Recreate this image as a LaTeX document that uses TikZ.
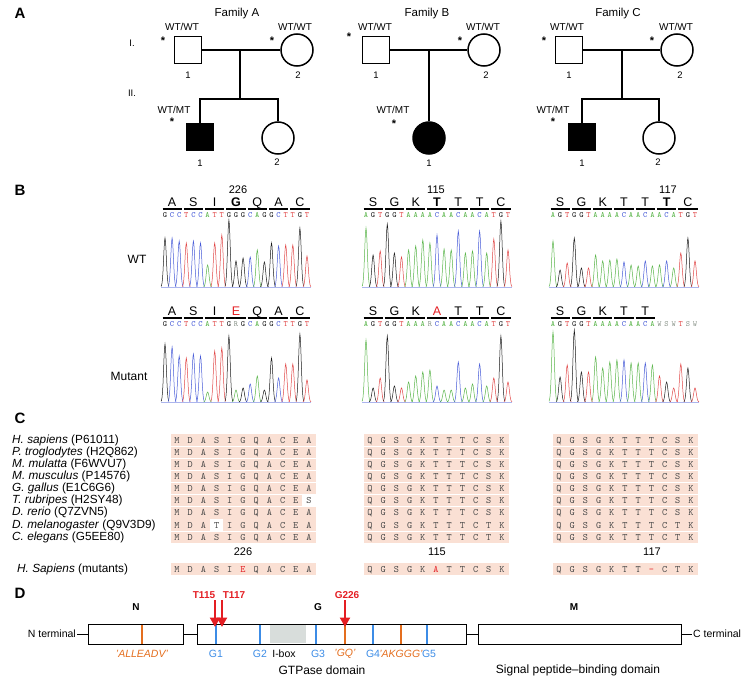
\documentclass[tikz,border=0pt]{standalone}
\usepackage{fontspec}
\setmainfont{Liberation Sans}
\usetikzlibrary{arrows.meta}

\definecolor{ntA}{RGB}{88,180,72}
\definecolor{ntC}{RGB}{70,90,215}
\definecolor{ntG}{RGB}{25,25,25}
\definecolor{ntT}{RGB}{225,70,70}
\definecolor{ntR}{RGB}{140,150,140}
\colorlet{ntW}{ntR}
\colorlet{ntS}{ntR}
\colorlet{pkA}{ntA}
\colorlet{pkC}{ntC}
\colorlet{pkG}{ntG}
\colorlet{pkT}{ntT}
\colorlet{pkR}{ntA}
\colorlet{pkW}{ntT}
\colorlet{pkS}{ntG}
\definecolor{alnpink}{RGB}{250,224,212}
\definecolor{motifblue}{RGB}{60,140,230}
\definecolor{motiforange}{RGB}{228,110,30}
\definecolor{mutred}{RGB}{228,30,35}
\definecolor{iboxgray}{RGB}{216,221,219}

\tikzset{
    panel/.style={font=\fontsize{15}{15}\selectfont\bfseries},
    famname/.style={font=\fontsize{11.5}{12}\selectfont},
    geno/.style={font=\fontsize{10}{10}\selectfont, inner sep=0pt},
    affstar/.style={font=\fontsize{11}{11}\selectfont\bfseries, inner sep=0pt},
    idnum/.style={font=\fontsize{9.5}{10}\selectfont, inner sep=0pt},
    male/.style={draw, line width=1.5pt, minimum size=27pt, inner sep=0pt},
    female/.style={circle, draw, line width=1.5pt, minimum size=32pt, inner sep=0pt},
    affected/.style={fill=black},
    ped/.style={line width=1.5pt},
    amino/.style={font=\fontsize{12.5}{12.5}\selectfont, inner sep=0pt,
        text height=9pt, text depth=0pt},
    nt/.style={font=\ttfamily\fontsize{8}{8}\selectfont, inner sep=0pt,
        text height=4.9pt, text depth=0pt},
    rowlab/.style={font=\fontsize{12}{12}\selectfont},
    posnum/.style={font=\fontsize{11}{11}\selectfont},
    species/.style={font=\fontsize{11.8}{12}\selectfont, anchor=west, inner sep=0pt},
    res/.style={font=\ttfamily\fontsize{9.8}{10}\selectfont, text=black!72, inner sep=0pt,
        text height=6pt, text depth=0pt},
    dom/.style={draw, line width=1pt, minimum height=20pt, inner sep=0pt},
    motif/.style={line width=2.2pt},
    motiflab/.style={font=\fontsize{10.5}{11}\selectfont},
    domname/.style={font=\fontsize{10}{10}\selectfont\bfseries},
    mutlab/.style={font=\fontsize{10}{10}\selectfont\bfseries, text=mutred},
    mutarrow/.style={mutred, line width=2.2pt, -{Triangle[width=10pt,length=9.5pt]}},
}

% sequence readout: name, x0, text y, baseline, base/height list
\newcommand{\readout}[5]{%
    \draw[line width=0.3pt, ntC!45] (#2-4,#4) -- (#2+146,#4);
    \foreach \b/\h [count=\i from 0] in {#5} {
        \node[nt, text=nt\b] (#1-\i) at (#2+\i*7.1,#3) {\b};
        \draw[pk\b, line width=0.5pt] plot[domain=-4:4, samples=17]
            ({#2+\i*7.1+\x},{#4-\h*exp(-(\x*\x)/3.5)});
    }}
% codon letters with bars: name, x0, letter y, list
\newcommand{\codons}[4]{%
    \foreach \amino [count=\k from 0] in {#4} {
        \node[amino] (#1-\k) at (#2+\k*21.3+7.1,#3) {\amino};
        \draw[line width=1.2pt] (#2+\k*21.3-2.5,#3+7) -- (#2+\k*21.3+16.7,#3+7);
    }}
% alignment row: name, x0, y, residues
\newcommand{\alnrow}[4]{%
    \foreach \rs [count=\k from 0] in #4 {
        \node[res] (#1-\k) at (#2+\k*13.2,#3) {\rs};
    }}

\begin{document}
\begin{tikzpicture}[x=1pt, y=-1pt]
\useasboundingbox (0,0) rectangle (755,685);

%%% A: pedigrees
\node[panel] (lA) at (20,13) {A};
\node[idnum] (genI) at (132,43) {I.};
\node[idnum] (genII) at (132,93) {II.};

% Family A
\node[famname] (famA) at (237,14) {Family A};
\node[male] (a1) at (188,50) {};
\node[female] (a2) at (297,50) {};
\node[male, affected] (a3) at (200,137) {};
\node[female] (a4) at (278,138) {};
\coordinate (aM) at (240,50);
\coordinate (aS) at (240,99);
\draw[ped] (a1) -- (a2);
\draw[ped] (aM) -- (aS);
\draw[ped] (a3.north) |- (aS) -| (a4.north);
\node[geno] (a1g) at (182,27) {WT/WT};
\node[geno] (a2g) at (295,27) {WT/WT};
\node[geno] (a3g) at (174,110) {WT/MT};
\node[affstar] (a1s) at (163,41) {*};
\node[affstar] (a2s) at (272,41) {*};
\node[affstar] (a3s) at (172,122) {*};
\node[idnum] (a1n) at (188,75) {1};
\node[idnum] (a2n) at (298,75) {2};
\node[idnum] (a3n) at (200,163) {1};
\node[idnum] (a4n) at (277,162) {2};

% Family B
\node[famname] (famB) at (427,14) {Family B};
\node[male] (b1) at (376,50) {};
\node[female] (b2) at (484,50) {};
\node[female, affected] (b3) at (429,138) {};
\coordinate (bM) at (429,50);
\draw[ped] (b1) -- (b2);
\draw[ped] (bM) -- (b3.north);
\node[geno] (b1g) at (375,27) {WT/WT};
\node[geno] (b2g) at (483,27) {WT/WT};
\node[geno] (b3g) at (393,110) {WT/MT};
\node[affstar] (b1s) at (349,37) {*};
\node[affstar] (b2s) at (460,41) {*};
\node[affstar] (b3s) at (394,124) {*};
\node[idnum] (b1n) at (376,75) {1};
\node[idnum] (b2n) at (486,75) {2};
\node[idnum] (b3n) at (429,163) {1};

% Family C
\node[famname] (famC) at (618,14) {Family C};
\node[male] (c1) at (569,50) {};
\node[female] (c2) at (677,50) {};
\node[male, affected] (c3) at (582,137) {};
\node[female] (c4) at (659,138) {};
\coordinate (cM) at (622,50);
\coordinate (cS) at (622,99);
\draw[ped] (c1) -- (c2);
\draw[ped] (cM) -- (cS);
\draw[ped] (c3.north) |- (cS) -| (c4.north);
\node[geno] (c1g) at (567,27) {WT/WT};
\node[geno] (c2g) at (676,27) {WT/WT};
\node[geno] (c3g) at (553,110) {WT/MT};
\node[affstar] (c1s) at (544,41) {*};
\node[affstar] (c2s) at (652,41) {*};
\node[affstar] (c3s) at (553,122) {*};
\node[idnum] (c1n) at (569,75) {1};
\node[idnum] (c2n) at (680,75) {2};
\node[idnum] (c3n) at (582,163) {1};
\node[idnum] (c4n) at (658,162) {2};

%%% B: chromatograms
\node[panel] (lB) at (20,190) {B};
\node[rowlab] (wtlab) at (137,259) {WT};
\node[rowlab] (mutlab) at (129,376) {Mutant};
\node[posnum] (p226) at (238,190) {226};
\node[posnum] (p115) at (436,190) {115};
\node[posnum] (p117) at (668,190) {117};

\codons{wa}{165}{202}{A,S,I,\textbf{G},Q,A,C}
\readout{wta}{165}{215}{287}{G/49,C/49,C/46,T/44,C/46,C/44,A/22,T/44,T/52,G/67,
    G/26,G/29,C/30,A/37,G/25,G/44,C/41,T/42,T/42,G/59,T/31}
\codons{wb}{366}{202}{S,G,K,\textbf{T},T,T,C}
\readout{wtb}{366}{215}{287}{A/59,G/32,T/36,G/63,G/34,T/30,A/37,A/41,A/47,A/44,
    C/52,A/38,A/37,C/56,A/34,A/36,C/56,A/34,T/48,G/66,T/37}
\codons{wc}{553}{202}{S,G,K,T,T,\textbf{T},C}
\readout{wtc}{553}{215}{287}{A/46,G/17,T/24,G/49,G/19,T/19,A/32,A/26,A/27,A/28,
    C/25,A/22,A/21,C/26,A/21,A/22,C/26,A/19,T/34,G/49,T/26}

\codons{ma}{165}{311}{A,S,I,\textcolor{mutred}{E},Q,A,C}
\readout{mta}{165}{324}{402}{G/58,C/55,C/46,T/44,C/48,C/46,A/10,T/51,T/54,G/66,
    R/12,G/14,C/18,A/26,G/12,G/44,C/24,T/38,T/38,G/68,T/22}
\codons{mb}{366}{311}{S,G,K,\textcolor{mutred}{A},T,T,C}
\readout{mtb}{366}{324}{402}{A/62,G/14,T/24,G/66,G/16,T/14,A/20,A/26,A/30,R/32,
    C/16,A/12,A/12,C/40,A/14,A/18,C/38,A/16,T/24,G/66,T/20}
\codons{mc}{553}{311}{S,G,K,T,T}
\readout{mtc}{553}{324}{402}{A/70,G/25,T/37,G/72,G/30,T/30,A/45,A/34,A/40,A/42,
    C/42,A/39,A/39,C/39,A/37,W/26,S/20,W/14,T/38,S/34,W/14}

%%% C: alignment
\node[panel] (lC) at (20,418) {C};
\foreach \j in {0,...,8} {
    \foreach \bx in {177,370,559} {
        \fill[alnpink] (\bx-6.5,440+\j*12.15-5.6) rectangle (\bx+138.5,440+\j*12.15+5.6);
    }}
\foreach \bx in {177,370,559} {
    \fill[alnpink] (\bx-6.5,563.4) rectangle (\bx+138.5,574.6);
}
\fill[white] (177+10*13.2-6.6,500.75-5.6) rectangle ++(13.2,11.2);
\fill[white] (177+3*13.2-6.6,525.05-5.6) rectangle ++(13.2,11.2);

\foreach \sp/\acc [count=\j from 0] in {H. sapiens/P61011, P. troglodytes/H2Q862,
        M. mulatta/F6WVU7, M. musculus/P14576, G. gallus/E1C6G6,
        T. rubripes/H2SY48, D. rerio/Q7ZVN5, D. melanogaster/Q9V3D9,
        C. elegans/G5EE80} {
    \node[species] (sp\j) at (12,440+\j*12.15) {\textit{\sp} (\acc)};
}
\node[species] (spmut) at (17,569) {\textit{H. Sapiens} (mutants)};

\foreach \row [count=\j from 0] in {{M,D,A,S,I,G,Q,A,C,E,A},{M,D,A,S,I,G,Q,A,C,E,A},
        {M,D,A,S,I,G,Q,A,C,E,A},{M,D,A,S,I,G,Q,A,C,E,A},{M,D,A,S,I,G,Q,A,C,E,A},
        {M,D,A,S,I,G,Q,A,C,E,S},{M,D,A,S,I,G,Q,A,C,E,A},{M,D,A,T,I,G,Q,A,C,E,A},
        {M,D,A,S,I,G,Q,A,C,E,A}} {
    \alnrow{k1r\j}{177}{440+\j*12.15}{\row}
}
\foreach \j in {0,...,6} {
    \alnrow{k2r\j}{370}{440+\j*12.15}{{Q,G,S,G,K,T,T,T,C,S,K}}
    \alnrow{k3r\j}{559}{440+\j*12.15}{{Q,G,S,G,K,T,T,T,C,S,K}}
}
\foreach \j in {7,8} {
    \alnrow{k2r\j}{370}{440+\j*12.15}{{Q,G,S,G,K,T,T,T,C,T,K}}
    \alnrow{k3r\j}{559}{440+\j*12.15}{{Q,G,S,G,K,T,T,T,C,T,K}}
}
\node[posnum] (c226) at (243,552) {226};
\node[posnum] (c115) at (437,552) {115};
\node[posnum] (c117) at (652,552) {117};
\alnrow{k1m}{177}{569}{{M,D,A,S,I,\textcolor{mutred}{E},Q,A,C,E,A}}
\alnrow{k2m}{370}{569}{{Q,G,S,G,K,\textcolor{mutred}{A},T,T,C,S,K}}
\alnrow{k3m}{559}{569}{{Q,G,S,G,K,T,T,\textcolor{mutred}{-},C,T,K}}

%%% D: domains
\node[panel] (lD) at (20,593) {D};
\fill[iboxgray] (270,625) rectangle (306,643);
\node[dom, minimum width=95pt] (domN) at (135.5,634) {};
\node[dom, minimum width=269pt] (domG) at (331.5,634) {};
\node[dom, minimum width=203pt] (domM) at (579.5,634) {};
\node[motiflab, anchor=east, inner sep=1pt] (nterm) at (77,634) {N terminal};
\node[motiflab, anchor=west, inner sep=1pt] (cterm) at (692,634) {C terminal};
\draw[line width=1pt] (nterm) -- (domN);
\draw[line width=1pt] (domN) -- (domG);
\draw[line width=1pt] (domG) -- (domM);
\draw[line width=1pt] (domM) -- (cterm);

\foreach \x/\c in {142/motiforange, 216/motifblue, 260/motifblue, 316/motifblue,
                   345/motiforange, 373/motifblue, 401/motiforange, 427/motifblue} {
    \draw[motif, \c] (\x,624.5) -- (\x,643.5);
}

\node[motiflab, text=motiforange] (mALL) at (142,654) {\textit{'ALLEADV'}};
\node[motiflab, text=motifblue] (mG1) at (216,654) {G1};
\node[motiflab, text=motifblue] (mG2) at (260,654) {G2};
\node[motiflab] (mIbox) at (284,654) {I-box};
\node[motiflab, text=motifblue] (mG3) at (318,654) {G3};
\node[motiflab, text=motiforange] (mGQ) at (345,654) {\textit{'GQ'}};
\node[motiflab, text=motifblue] (mG4) at (373,654) {G4};
\node[motiflab, text=motiforange] (mAKG) at (401,654) {\textit{'AKGGG'}};
\node[motiflab, text=motifblue] (mG5) at (429,654) {G5};

\node[domname] (dN) at (136,607) {N};
\node[domname] (dG) at (318,607) {G};
\node[domname] (dM) at (574,607) {M};
\node[font=\fontsize{12}{12}\selectfont] (gtpase) at (322,670) {GTPase domain};
\node[font=\fontsize{12}{12}\selectfont] (spbd) at (578,670) {Signal peptide--binding domain};

\node[mutlab] (t115) at (204,595) {T115};
\node[mutlab] (t117) at (234,595) {T117};
\node[mutlab] (g226) at (347,595) {G226};
\coordinate (t115a) at (215,600);
\coordinate (t115b) at (215,627);
\coordinate (t117a) at (222,600);
\coordinate (t117b) at (222,627);
\coordinate (g226a) at (345,600);
\coordinate (g226b) at (345,627);
\draw[mutarrow] (t115a) -- (t115b);
\draw[mutarrow] (t117a) -- (t117b);
\draw[mutarrow] (g226a) -- (g226b);
\end{tikzpicture}
\end{document}
